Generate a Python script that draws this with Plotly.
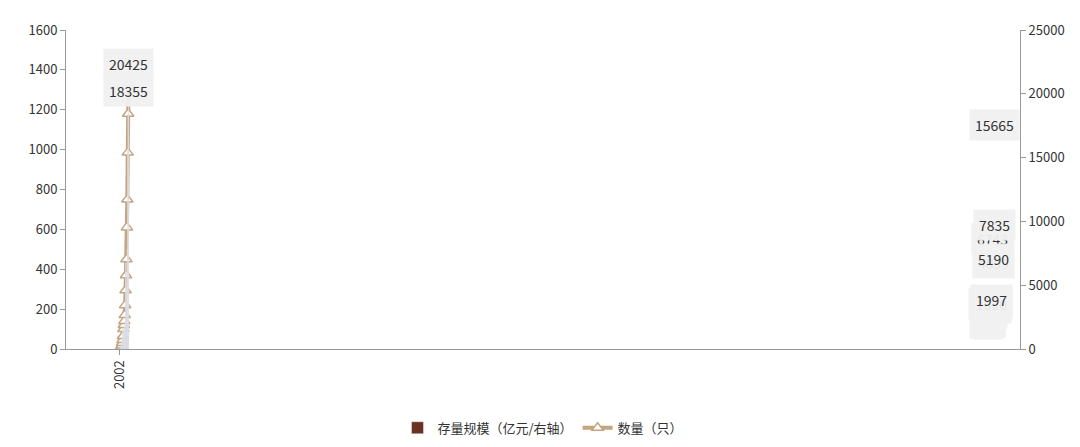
import plotly.graph_objects as go

cats = ["2002","2003","2004","2005","2006","2007","2008","2009","2010","2011","2012","2013","2014","2015","2016","2017","2018","2019","2020","2021Q1","2021Q2"]
scale = [77,128,95,269,262,930,1670,949,1566,1361,1807,1620,1997,6759,6743,4839,5190,7835,15665,18355,20425]
count = [2,3,5,10,18,30,45,65,100,120,140,170,220,295,370,450,610,750,985,1180,1330]

fig = go.Figure()
fig.add_trace(go.Bar(x=cats, y=scale, name="存量规模（亿元/右轴）", marker_color="#6B3024", width=0.4, yaxis="y2"))
fig.add_trace(go.Scatter(x=cats, y=count, name="数量（只）", mode="lines+markers",
                         line=dict(color="#C4A57E", width=4),
                         marker=dict(symbol="triangle-up", size=10, color="white", line=dict(color="#C4A57E", width=1.5))))
for c, v in zip(cats, scale):
    fig.add_annotation(x=c, y=v, yref="y2", text=str(v), showarrow=False, yshift=24,
                       bgcolor="rgba(240,240,240,0.95)", borderpad=5, font=dict(size=14, color="#333"))
fig.update_layout(
    width=1080, height=447, plot_bgcolor="white", paper_bgcolor="white",
    font=dict(family="Noto Sans CJK SC", size=13, color="#333"),
    margin=dict(l=58, r=68, t=20, b=94),
    xaxis=dict(type="category", tickangle=-90, showline=True, linecolor="#999", ticks="outside", tickcolor="#999", tickfont=dict(size=13)),
    yaxis=dict(range=[0,1600], dtick=200, showgrid=False, showline=True, linecolor="#999", ticks="outside", tickcolor="#999"),
    yaxis2=dict(range=[0,25000], dtick=5000, tickformat="d", overlaying="y", side="right", showgrid=False, showline=True, linecolor="#999", ticks="outside", tickcolor="#999"),
    legend=dict(orientation="h", x=0.5, xanchor="center", y=-0.2, yanchor="top", traceorder="normal"),
)
fig.write_html("out.html")
